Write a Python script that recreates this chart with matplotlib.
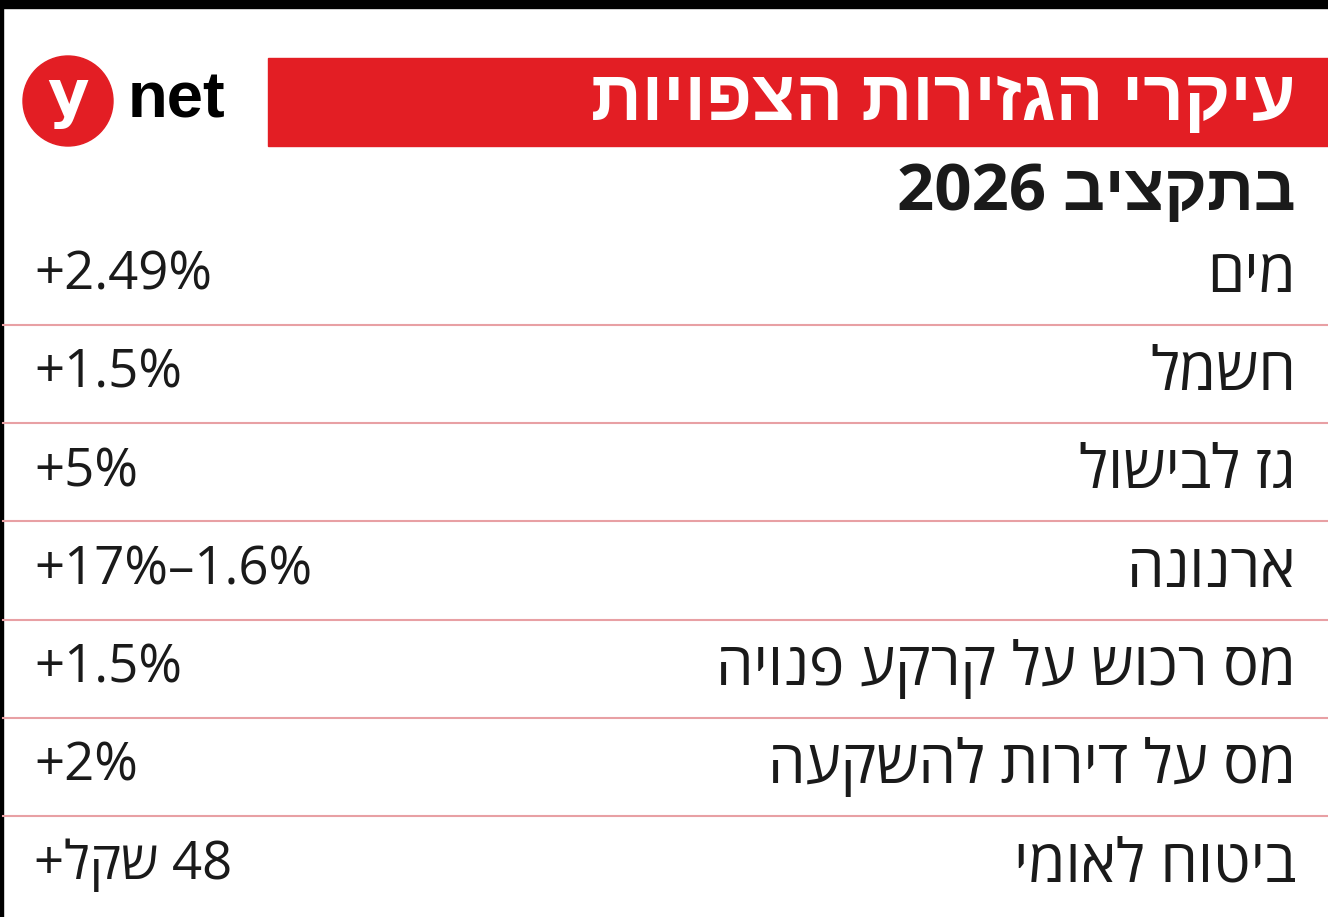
import matplotlib.pyplot as plt
from matplotlib.patches import Rectangle, Circle

plt.rcParams['font.family'] = ['Open Sans', 'Liberation Sans', 'DejaVu Sans']

title = 'עיקרי הגזירות הצפויות'
subtitle_word = 'בתקציב'
subtitle_year = '2026'
items = ['מים', 'חשמל', 'גז לבישול', 'ארנונה', 'מס רכוש על קרקע פנויה',
         'מס על דירות להשקעה', 'ביטוח לאומי']
values = ['+2.49%', '+1.5%', '+5%', '+17%–1.6%', '+1.5%', '+2%', None]
last_value_num = '48'
last_value_unit = 'שקל'

RED = '#e31e24'
LINE = '#e8a0a4'


def vis(s):
    # no bidi support in matplotlib: reverse Hebrew to visual order
    return s[::-1]


W, H = 1328, 917
fig = plt.figure(figsize=(W / 100, H / 100), dpi=100)
ax = fig.add_axes([0, 0, 1, 1])
ax.set_xlim(0, W)
ax.set_ylim(H, 0)
ax.axis('off')

# frame
ax.add_patch(Rectangle((0, 0), W, 8, color='black'))
ax.add_patch(Rectangle((0, 0), 3, H, color='black'))

# logo
ax.add_patch(Circle((68, 101), 45, color=RED))
ax.text(68, 98, 'y', color='white', fontsize=46, fontweight='bold',
        ha='center', va='center', family='DejaVu Sans')
ax.text(128, 101, 'net', color='black', fontsize=47, fontweight='bold',
        ha='left', va='center', family='Liberation Sans')

# title bar
ax.add_patch(Rectangle((268, 58), W - 268, 88, color=RED))
ax.text(1296, 101, vis(title), color='white', fontsize=51, fontweight='bold',
        ha='right', va='center')
ax.text(1296, 193, subtitle_year + ' ' + vis(subtitle_word), color='#1a1a1a',
        fontsize=47, fontweight='bold', ha='right', va='center')

row0, step = 276, 98.2
for i, name in enumerate(items):
    y = row0 + i * step
    ax.text(1296, y, vis(name), fontsize=43, ha='right', va='center', color='#1a1a1a')
    v = values[i]
    if v is None:
        v = '+' + vis(last_value_unit) + ' ' + last_value_num
    ax.text(34, y, v, fontsize=38, fontweight='medium', ha='left', va='center',
            color='#1a1a1a')
    if i < len(items) - 1:
        ax.plot([3, W], [y + 49, y + 49], color=LINE, lw=1.5)

fig.savefig('out.png', dpi=100)
